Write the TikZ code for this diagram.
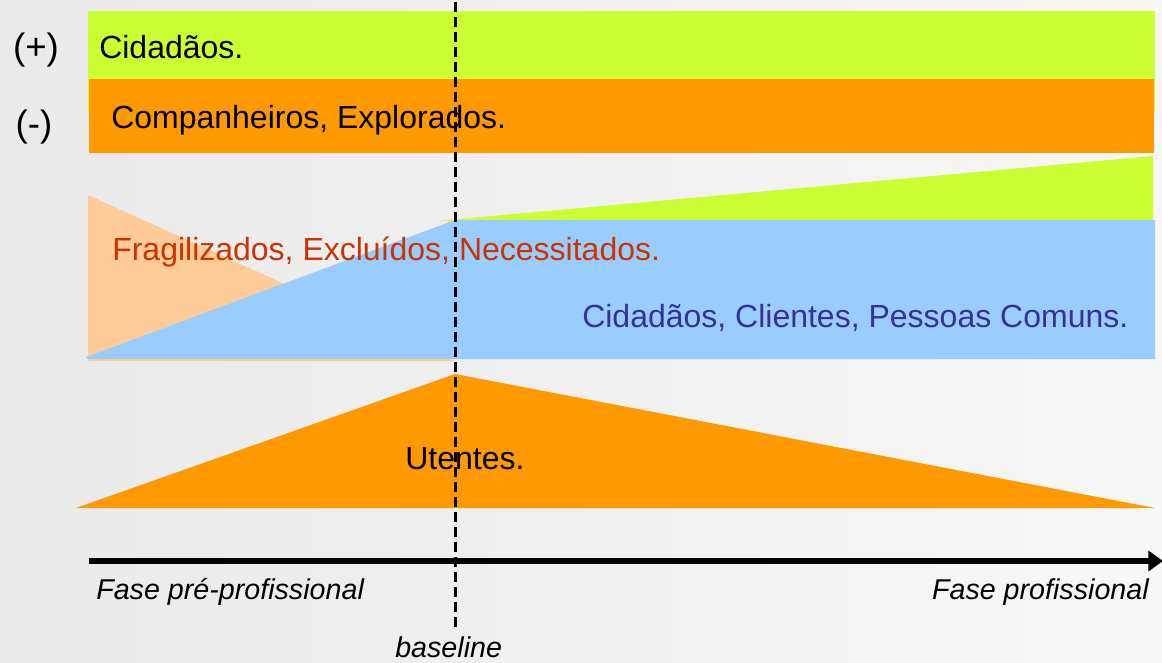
\documentclass[tikz,border=0pt]{standalone}
\usepackage{fontspec}
\setmainfont{Liberation Sans}
\usetikzlibrary{arrows.meta}
\definecolor{cgreen}{RGB}{204,255,51}
\definecolor{corange}{RGB}{255,153,0}
\definecolor{cpeach}{RGB}{255,204,153}
\definecolor{cblue}{RGB}{153,204,255}
\definecolor{cred}{RGB}{204,51,0}
\definecolor{cnavy}{RGB}{51,51,153}
\definecolor{bgl}{RGB}{234,234,234}
\definecolor{bgr}{RGB}{247,247,247}
\tikzset{
  lbl/.style={anchor=base west, inner sep=0pt, font=\fontsize{24}{28}\selectfont},
  sidelbl/.style={anchor=center, inner sep=0pt, font=\fontsize{27.5}{32}\selectfont},
  phase/.style={anchor=base west, inner sep=0pt, font=\fontsize{21.5}{25}\selectfont\itshape},
  baseline line/.style={line width=2.25pt, dash pattern=on 7.5pt off 3.75pt},
}
\begin{document}
\begin{tikzpicture}[x=0.75pt,y=-0.75pt]
\path[use as bounding box] (0,0) rectangle (1162,662);
\clip (0,0) rectangle (1162,662);
\shade[left color=bgl, right color=bgr] (0,0) rectangle (1162,662);
% top bars
\fill[cgreen] (88,11) rectangle (1155,113);
\fill[corange] (89,79) rectangle (1154,153);
% green wedge
\fill[cgreen] (437,221) -- (1153,156) -- (1153,221) -- cycle;
% peach triangle
\fill[cpeach] (88,195) -- (455,361) -- (88,361) -- cycle;
% blue shape
\fill[cblue] (86,357) -- (455,220) -- (1155,220) -- (1155,359) -- (88,359) -- cycle;
% bottom orange triangle
\fill[corange] (76,508) -- (455,374) -- (1155,508) -- cycle;
% texts
\node[sidelbl] (plus) at (36,50) {(+)};
\node[sidelbl] (minus) at (34,127) {(-)};
\node[lbl] (cid) at (99,58) {Cidadãos.};
\node[lbl] (comp) at (111,128) {Companheiros, Explorados.};
\node[lbl, text=cred] (frag) at (112,260) {Fragilizados, Excluídos, Necessitados.};
\node[lbl, text=cnavy] (cli) at (582,327) {Cidadãos, Clientes, Pessoas Comuns.};
\node[lbl] (ut) at (405,469) {Utentes.};
% axis
\coordinate (axs) at (89,561);
\coordinate (axe) at (1163,561);
\draw[line width=4.5pt, -{Triangle[width=15pt,length=11pt]}] (axs) -- (axe);
\node[phase] (pre) at (96,599) {Fase pré-profissional};
\node[phase, anchor=base east] (prof) at (1149,599) {Fase profissional};
\node[phase] (bl) at (395,657) {baseline};
% dashed baseline
\coordinate (dtop) at (455,2);
\coordinate (dbot) at (455,627);
\draw[baseline line] (dtop) -- (dbot);
\end{tikzpicture}
\end{document}
